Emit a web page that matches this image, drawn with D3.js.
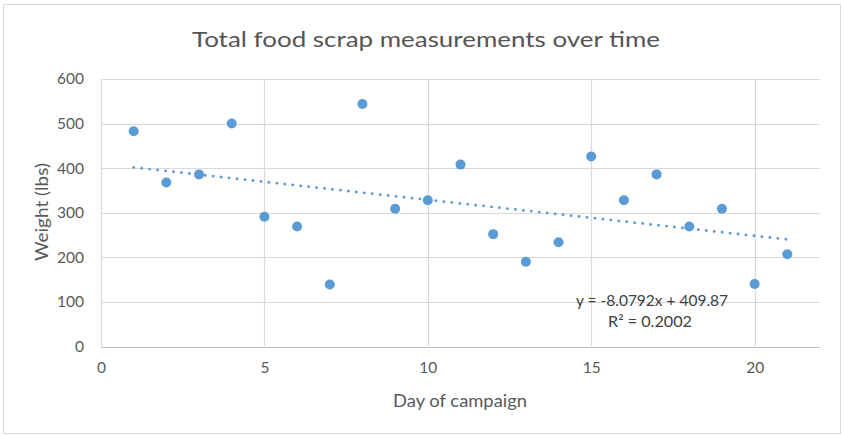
<!DOCTYPE html>
<html>
<head>
<meta charset="utf-8">
<script src="https://cdn.jsdelivr.net/npm/d3@7"></script>
<style>
  html, body { margin: 0; padding: 0; background: #ffffff; }
  svg { display: block; }
  text { font-family: Lato, "Open Sans", sans-serif; }
</style>
</head>
<body>
<svg id="chart" width="844" height="436"></svg>
<script>
// Day of campaign and total food scrap weight (lbs) measured that day
const days = [1, 2, 3, 4, 5, 6, 7, 8, 9, 10, 11, 12, 13, 14, 15, 16, 17, 18, 19, 20, 21];
const weights = [483, 368, 386, 500, 291, 269, 139, 544, 309, 328, 408, 252, 190, 234, 426, 328, 386, 269, 309, 140, 207];

// Axis ticks
const xTicks = [0, 5, 10, 15, 20];
const yTicks = [0, 100, 200, 300, 400, 500, 600];

// Linear trendline as reported on the chart
const trendSlope = -8.0792;
const trendIntercept = 409.87;
const trendR2 = 0.2002;
const trendLabel = ["y = -8.0792x + 409.87", "R² = 0.2002"];

const titleText = "Total food scrap measurements over time";
const xTitle = "Day of campaign";
const yTitle = "Weight (lbs)";

const svg = d3.select("#chart");
const W = 844, H = 436;
const plot = { left: 101, right: 820, top: 79, bottom: 346.5 };

const x = d3.scaleLinear().domain([0, 22]).range([plot.left, plot.right]);
const y = d3.scaleLinear().domain([0, 600]).range([plot.bottom, plot.top]);

const blue = "#5B9BD5";
const grid = "#d9d9d9";
const textCol = "#595959";

// chart frame
svg.append("rect")
  .attr("x", 3.5).attr("y", 4.5)
  .attr("width", W - 7).attr("height", H - 7)
  .attr("fill", "#fff").attr("stroke", "#d9d9d9").attr("stroke-width", 1);

// title
svg.append("text")
  .attr("x", 426).attr("y", 47)
  .attr("text-anchor", "middle")
  .attr("font-size", 22)
  .attr("fill", "#555555")
  .attr("textLength", 468)
  .attr("lengthAdjust", "spacingAndGlyphs")
  .text(titleText);

// horizontal gridlines
svg.append("g")
  .selectAll("line")
  .data(yTicks)
  .join("line")
  .attr("x1", plot.left).attr("x2", plot.right)
  .attr("y1", d => Math.round(y(d)) + 0.5).attr("y2", d => Math.round(y(d)) + 0.5)
  .attr("stroke", d => d === 0 ? "#bfbfbf" : grid)
  .attr("stroke-width", 1.2);

// vertical gridlines
svg.append("g")
  .selectAll("line")
  .data(xTicks)
  .join("line")
  .attr("x1", d => Math.round(x(d)) + 0.5).attr("x2", d => Math.round(x(d)) + 0.5)
  .attr("y1", plot.top).attr("y2", plot.bottom)
  .attr("stroke", grid)
  .attr("stroke-width", 1.2);

// y axis labels
const yAxis = d3.axisLeft(y).tickValues(yTicks).tickSize(0).tickPadding(0);
const gy = svg.append("g").attr("transform", `translate(${plot.left - 17},0)`).call(yAxis);
gy.select(".domain").remove();
gy.selectAll("text")
  .attr("font-size", 15.5)
  .attr("fill", textCol)
  .attr("font-family", "Lato, sans-serif");

// x axis labels
const xAxis = d3.axisBottom(x).tickValues(xTicks).tickSize(0).tickPadding(0);
const gx = svg.append("g").attr("transform", `translate(0,${plot.bottom + 15})`).call(xAxis);
gx.select(".domain").remove();
gx.selectAll("text")
  .attr("font-size", 15.5)
  .attr("fill", textCol)
  .attr("font-family", "Lato, sans-serif");

// axis titles
svg.append("text")
  .attr("x", 460).attr("y", 407)
  .attr("text-anchor", "middle")
  .attr("font-size", 17)
  .attr("fill", textCol)
  .attr("textLength", 134)
  .attr("lengthAdjust", "spacingAndGlyphs")
  .text(xTitle);

svg.append("text")
  .attr("transform", "translate(48,212) rotate(-90)")
  .attr("text-anchor", "middle")
  .attr("font-size", 17)
  .attr("fill", textCol)
  .attr("textLength", 98)
  .attr("lengthAdjust", "spacingAndGlyphs")
  .text(yTitle);

// trendline over the data range
const x0 = d3.min(days), x1 = d3.max(days);
svg.append("line")
  .attr("x1", x(x0)).attr("y1", y(trendSlope * x0 + trendIntercept))
  .attr("x2", x(x1)).attr("y2", y(trendSlope * x1 + trendIntercept))
  .attr("stroke", blue)
  .attr("stroke-width", 2.8)
  .attr("stroke-linecap", "round")
  .attr("stroke-dasharray", "0.1 7.9");

// data points
svg.append("g")
  .selectAll("circle")
  .data(days.map((d, i) => ({ day: d, w: weights[i] })))
  .join("circle")
  .attr("cx", d => x(d.day))
  .attr("cy", d => y(d.w))
  .attr("r", 5)
  .attr("fill", blue);

// trendline equation
svg.append("g")
  .selectAll("text")
  .data(trendLabel)
  .join("text")
  .attr("x", (d, i) => i === 0 ? 652 : 650)
  .attr("y", (d, i) => 306 + i * 21)
  .attr("text-anchor", "middle")
  .attr("font-size", 15)
  .attr("fill", "#404040")
  .attr("textLength", (d, i) => i === 0 ? 152 : 84)
  .attr("lengthAdjust", "spacingAndGlyphs")
  .text(d => d);
</script>
</body>
</html>
